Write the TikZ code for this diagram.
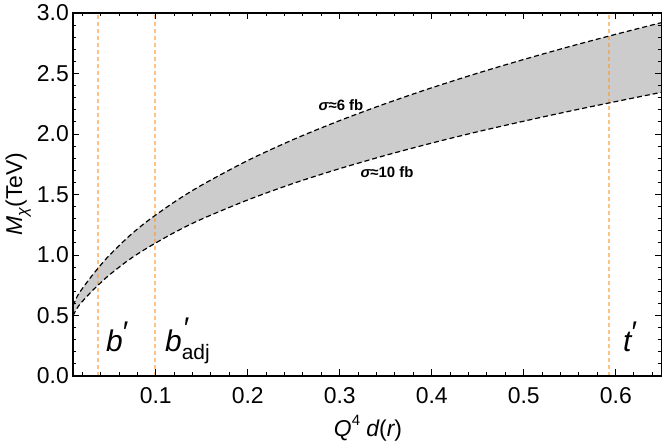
\documentclass[tikz,border=0pt]{standalone}
\usepackage{fontspec}
\setmainfont{Liberation Sans}
\definecolor{orng}{RGB}{255,153,51}
\definecolor{band}{gray}{0.8}
\newcommand\fs[1]{\fontsize{#1}{#1}\selectfont}
\newcommand\upc{(0.01,0.581) (0.015,0.664) (0.02,0.721) (0.03,0.823) (0.04,0.916) (0.05,1.001) (0.07,1.149) (0.09,1.275) (0.12,1.437) (0.15,1.578) (0.2,1.781) (0.25,1.956) (0.3,2.111) (0.35,2.252) (0.4,2.382) (0.45,2.503) (0.5,2.616) (0.55,2.723) (0.6,2.824) (0.65,2.921)}
\newcommand\loc{(0.01,0.499) (0.015,0.567) (0.02,0.615) (0.03,0.697) (0.04,0.770) (0.05,0.838) (0.07,0.956) (0.09,1.055) (0.12,1.185) (0.15,1.297) (0.2,1.455) (0.25,1.593) (0.3,1.714) (0.35,1.824) (0.4,1.925) (0.45,2.019) (0.5,2.106) (0.55,2.189) (0.6,2.268) (0.65,2.345)}
\newcommand\locrev{(0.65,2.345) (0.6,2.268) (0.55,2.189) (0.5,2.106) (0.45,2.019) (0.4,1.925) (0.35,1.824) (0.3,1.714) (0.25,1.593) (0.2,1.455) (0.15,1.297) (0.12,1.185) (0.09,1.055) (0.07,0.956) (0.05,0.838) (0.04,0.770) (0.03,0.697) (0.02,0.615) (0.015,0.567) (0.01,0.499)}
\begin{document}
\begin{tikzpicture}[x=1bp,y=1bp,
  curve/.style={black, line width=1.2bp, dash pattern=on 5bp off 3bp},
  vline/.style={orng, opacity=0.6, line width=1.6bp, dash pattern=on 4bp off 3bp},
  framebox/.style={black, line width=1.2bp},
  tickmark/.style={black, line width=0.9bp},
  ticklbl/.style={font=\fs{23}, inner sep=0pt},
  sig/.style={font=\bfseries\fs{15}, inner sep=0pt},
  qlbl/.style={font=\fs{30}, inner sep=0pt, anchor=base west}]
\useasboundingbox (0,0) rectangle (664,443);
\begin{scope}[xshift=63.8bp, yshift=67bp, x=920bp, y=121bp]
  % band
  \fill[band] plot[smooth, tension=0.5] coordinates {\upc}
     -- plot[smooth, tension=0.5] coordinates {\locrev} -- cycle;
  % vertical markers
  \coordinate (bpb) at (0.037,0);  \coordinate (bpt) at (0.037,3);
  \coordinate (bab) at (0.0988,0); \coordinate (bat) at (0.0988,3);
  \coordinate (tpb) at (0.5926,0); \coordinate (tpt) at (0.5926,3);
  \draw[vline] (bpb) -- (bpt);
  \draw[vline] (bab) -- (bat);
  \draw[vline] (tpb) -- (tpt);
  % curves
  \draw[curve] plot[smooth, tension=0.5] coordinates {\upc};
  \draw[curve] plot[smooth, tension=0.5] coordinates {\loc};
  % frame
  \coordinate (ll) at (0.01,0); \coordinate (ur) at (0.65,3);
  \draw[framebox] (ll) rectangle (ur);
  % x ticks
  \foreach \t in {0.02,0.04,...,0.645} {
    \draw[tickmark] (\t,0) -- ++(0,3.5bp);
    \draw[tickmark] (\t,3) -- ++(0,-3.5bp);
  }
  \foreach \t in {0.1,0.2,0.3,0.4,0.5,0.6} {
    \draw[tickmark] (\t,0) -- ++(0,6.5bp);
    \draw[tickmark] (\t,3) -- ++(0,-6.5bp);
    \node[ticklbl, anchor=north] (xl\t) at ([yshift=-11bp]\t,0) {\t};
  }
  % y ticks
  \foreach \t in {0.1,0.2,...,2.95} {
    \draw[tickmark] (0.01,\t) -- ++(3.5bp,0);
    \draw[tickmark] (0.65,\t) -- ++(-3.5bp,0);
  }
  \foreach \t/\l in {0/0.0,0.5/0.5,1/1.0,1.5/1.5,2/2.0,2.5/2.5,3/3.0} {
    \draw[tickmark] (0.01,\t) -- ++(6.5bp,0);
    \draw[tickmark] (0.65,\t) -- ++(-6.5bp,0);
    \node[ticklbl, anchor=east] (yl\l) at ([xshift=-4bp]0.01,\t) {\l};
  }
\end{scope}
% axis labels
\node[font=\fs{23}, inner sep=0pt, anchor=base] (xlab) at (368,6)
  {\itshape Q\raisebox{0.5em}{\fs{15}\upshape 4} d\upshape(\itshape r\upshape)};
\node[font=\fs{23}, inner sep=0pt, anchor=base, rotate=90] (ylab) at (22,249)
  {\itshape M\raisebox{-0.25em}{\fs{16}χ}\upshape(TeV)};
% sigma labels
\node[sig] (s6) at (341,338) {{\itshape σ}≈6 fb};
\node[sig] (s10) at (387,271) {{\itshape σ}≈10 fb};
% particle labels
\node[qlbl] (bp) at (106,91) {\itshape b\raisebox{9bp}{\upshape ′}};
\node[qlbl] (ba) at (165,91) {\itshape b\rlap{\raisebox{13bp}{\hspace{2bp}\upshape ′}}\raisebox{-8bp}{\fs{21}\upshape adj}};
\node[qlbl] (tp) at (623,91) {\itshape t\raisebox{9bp}{\upshape ′}};
\end{tikzpicture}
\end{document}
